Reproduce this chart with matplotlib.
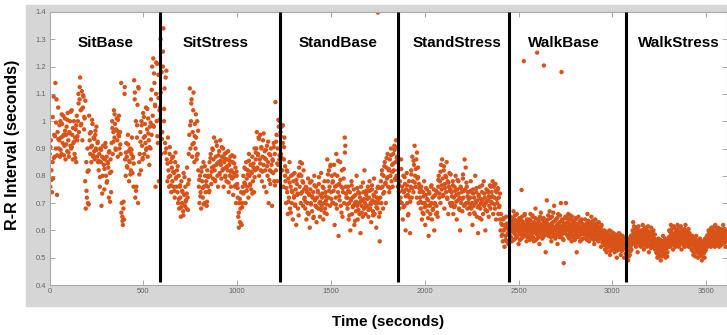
import matplotlib
matplotlib.use("Agg")
import matplotlib.pyplot as plt
import numpy as np
from matplotlib.patches import Rectangle

plt.rcParams['font.family'] = ['Liberation Sans', 'DejaVu Sans']

# phase names and boundaries (seconds)
phases = ["SitBase", "SitStress", "StandBase", "StandStress", "WalkBase", "WalkStress"]
bounds = [0, 588, 1227, 1858, 2451, 3074, 3611]
label_x = [300, 886, 1539, 2174, 2743, 3353]

# R-R intervals (ms), evenly spread over each phase
sit_base = [
    880, 760, 930, 820, 740, 850, 790,
    1090, 950, 870, 1140, 900, 1080, 730,
    960, 1050, 900, 930, 870, 1000, 940, 880, 990, 920, 1020, 950,
    910, 1010, 860, 950, 980, 890, 1030, 930, 870, 960, 1000, 910,
    900, 1040, 950, 860, 920, 1000, 880, 940, 970, 850, 1020, 930,
    1000, 1100, 960, 1080, 1160, 1040, 990, 1110, 930, 1050, 1090, 970, 1010,
    780, 680, 850, 720, 900, 700, 820,
    1020, 930, 880, 960, 850, 910, 990, 870, 940, 890, 860, 950, 900, 980, 870, 920, 850,
    820, 880, 760, 900, 850, 690, 870, 800, 910, 840, 750, 860, 920, 800, 870, 780, 850, 830, 720, 890, 810, 860, 740,
    920, 1000, 880, 960, 1040, 940, 990, 900, 970, 1010, 930, 870, 950, 1020, 900, 960, 880,
    1140, 700, 650, 620, 680, 640, 1100,
    860, 800, 920, 870, 830, 950, 890, 780, 850, 900, 820, 880, 940, 810, 870, 760,
    1150, 1080, 720, 1000, 760, 940, 1060, 700, 1120, 850,
    880, 960, 820, 1000, 910, 860, 1030, 940, 880, 990, 920, 1050, 900, 970, 870, 1010, 930, 840, 980, 900,
    1080, 950, 1200, 1020, 1230, 980, 1140, 1060, 760, 1100, 1000, 1210, 920, 1170, 780, 1040,
]
sit_base_b = [
    905, 785, 1015, 865, 945, 995, 875,
    935, 985, 895, 1025, 945, 875, 965, 915, 1005, 885, 955, 1035, 905, 975, 925, 865, 985, 945,
    1065, 1125, 985, 1045, 1095, 1015, 1075,
    745, 815, 695,
    955, 905, 1005, 875, 935, 965, 895, 925,
    855, 795, 895, 735, 865, 825, 905, 775, 845, 885, 705, 815,
    975, 925, 1025, 895, 965, 1005, 945, 915,
    665, 635, 705, 1125,
    885, 835, 915, 855, 805, 895, 865, 845,
    1105, 745, 985, 1125, 805,
    925, 985, 865, 1015, 945, 895, 1045, 955, 905, 995,
    1115, 985, 1175, 1055, 1215, 945, 1085, 1005,
]
sit_stress = [
    1050, 1300, 880, 1180, 960, 1200, 1340, 1000, 1120, 920, 1160,
    900, 860, 780, 940, 820, 760, 880, 800, 850, 740, 830, 780, 870, 760, 810, 720, 850, 790, 760, 820,
    740, 700, 800, 680, 760, 720, 650, 780, 700, 740, 670, 810, 730, 690, 760, 710, 680, 830, 720, 770,
    880, 950, 1120, 900, 1000, 1080, 870, 960, 1040, 920, 850, 990, 900, 940, 860, 1000, 880,
    820, 760, 700, 800, 740, 680, 830, 780, 720, 850, 760, 700, 800, 740, 780, 690, 820, 760, 800, 740,
    850, 800, 880, 770, 830, 900, 790, 860, 940, 820,
    780, 870, 840, 910, 800, 760, 850, 890, 810, 930,
    840, 790, 870, 820, 900, 760, 850, 880, 800, 830,
    780, 860, 820, 890, 740, 840, 800, 870, 760, 820,
    790, 850, 730, 810, 870, 760, 830, 700, 800, 770,
    720, 650, 610, 700, 630, 680, 740, 620, 700, 760,
    800, 740, 830, 770, 700, 850, 790, 760, 820, 720, 880, 800, 770, 840, 750, 810, 870, 780, 830, 740, 900, 820, 860,
    900, 960, 830, 880, 940, 800, 860, 950, 820, 900, 780, 870, 930, 840, 760, 890, 820, 860, 740, 910, 800, 850,
    700, 880, 820, 770, 900, 840, 690, 860, 810, 920, 780,
    880, 1070, 820, 950, 780, 900, 840, 980, 860,
]
sit_stress_b = [
    1105, 935, 1255, 1045, 885, 1185,
    845, 795, 905, 765, 865, 815, 745, 885, 795, 835,
    715, 765, 685, 745, 655, 795, 705, 735, 675, 785,
    985, 1065, 915, 1105, 945, 1025, 875, 965,
    785, 725, 815, 755, 695, 835, 765, 705, 795, 745,
    865, 815, 895, 835, 785, 925, 845, 875, 805, 855, 905, 825, 865, 795, 885, 835, 775, 855, 815, 875,
    795, 845, 765, 815, 755,
    665, 715, 625, 685, 735,
    775, 825, 745, 805, 855, 765, 815, 735, 845, 795, 885, 825,
    875, 935, 845, 905, 815, 955, 865, 895, 835, 925, 785, 875, 815, 855, 905, 765,
    925, 845, 1005, 875,
]
stand_base = [
    1000, 960, 880, 980, 820, 920, 760, 860, 940, 800,
    780, 700, 820, 740, 660, 790, 720, 850, 680, 760, 800, 700, 740, 640, 780, 720, 810, 690, 750, 620, 770, 730, 680, 800,
    830, 760, 850, 700, 800, 740, 780, 690, 820, 750,
    720, 680, 760, 640, 740, 700, 790, 660, 730, 610, 750, 700, 780, 670, 720, 740, 650, 800, 710, 690,
    760, 630, 720, 740, 680, 770, 700, 650, 730, 810, 690, 720, 760, 640, 700, 780, 680, 740, 710, 660,
    860, 780, 720, 820, 760, 690, 840, 740, 800, 700,
    780, 700, 840, 620, 760, 720, 880, 680, 800, 740, 580, 770, 710, 850, 690, 760, 820, 650, 740, 790, 700, 940, 910, 760, 720,
    720, 680, 760, 640, 700, 740, 600, 710, 780, 660, 720, 690, 750, 620, 700, 730, 670, 800, 690, 640,
    740, 700, 660, 720, 590, 760, 690, 710, 650, 740, 680, 820, 700, 660, 730,
    740, 690, 760, 650, 720, 780, 680, 700, 630, 750, 710, 670, 730, 790, 660, 700, 740, 610, 720, 680, 760, 700, 650, 560,
    720, 780, 700, 820, 760, 680, 800, 740, 850, 770, 700, 830, 790, 880, 760, 820,
    740, 860, 800, 900, 780, 840, 760, 880, 820, 910, 790, 850, 930, 800, 870, 760,
]
stand_base_b = [
    945, 865, 985, 905, 835,
    755, 815, 705, 775, 665, 745, 805, 725, 695, 785, 735, 655,
    805, 735, 845, 775, 715,
    705, 755, 665, 735, 775, 695, 725, 645, 765, 715, 685, 745, 795, 705, 675, 735, 755, 665, 725, 695,
    805, 745, 835, 715, 775,
    745, 805, 695, 765, 855, 725, 785, 665, 755, 825, 885, 735,
    695, 745, 655, 715, 765, 685, 725, 635, 705, 755, 675, 735, 705, 665, 775, 715, 685, 745,
    715, 675, 745, 695, 765, 655, 725, 705, 685, 755, 715, 665,
    755, 805, 735, 835, 775, 865, 795, 825, 755, 875, 815, 845, 895, 785, 865, 905,
]
stand_stress = [
    820, 740, 680, 780, 720, 860, 700, 760, 640, 800, 740, 690, 770, 600, 750, 810, 700, 730, 660, 780, 720, 590,
    760, 820, 720, 870, 780, 740, 840, 910, 800, 760, 860, 720, 790, 830, 700, 770, 740,
    720, 680, 760, 640, 700, 740, 660, 780, 700, 620, 730, 690, 750, 670, 710, 580, 740, 690, 660, 760,
    700, 640, 720, 680, 750, 600, 700, 730, 660, 690, 740, 650,
    760, 800, 720, 780, 700, 840, 750, 860, 790, 730, 820, 680, 770, 800, 740, 850, 720, 780, 660, 760, 810, 700, 750, 690,
    740, 700, 780, 660, 720, 760, 690, 800, 730, 640, 750, 710, 780, 680, 720, 600, 760, 700, 740, 670,
    790, 720, 690, 860, 750, 830, 700, 760, 680, 740,
    700, 740, 660, 720, 780, 680, 700, 620, 750, 690, 720, 660, 800, 700, 740, 650, 710, 590, 730, 690,
    760, 680, 700, 640, 740, 710, 660, 780, 690, 720, 600, 700, 750, 670, 710, 740, 650, 690, 720, 680, 760,
    740, 700, 780, 660, 760, 720, 680, 770, 640, 740, 700, 750, 660, 720, 690,
    640, 600, 660, 580, 620, 560, 640, 600, 540, 620, 580, 650, 560, 610, 590, 550, 600,
]
stand_stress_b = [
    765, 705, 825, 745, 685, 795, 725, 765, 655, 745, 705,
    805, 755, 855, 775, 825, 885, 795, 755,
    705, 745, 665, 725, 685, 755, 715, 645, 735, 695, 765, 675, 725, 695, 745, 665,
    785, 735, 815, 765, 725, 835, 755, 795, 715, 775, 745, 805,
    725, 765, 685, 745, 705, 785, 735, 675, 755, 715, 805, 745, 695, 775, 725,
    715, 685, 745, 695, 735, 665, 705, 755, 685, 725, 645, 715, 765, 695, 735, 675, 705, 745, 725, 765, 705,
    725, 765, 695, 745, 715, 755, 685, 735, 625, 585, 645, 605, 565, 625, 585, 605,
]
walk_base = [
    620, 580, 650, 600, 560, 630, 610, 670, 590, 640, 570, 620, 600, 660, 580, 630, 550, 610, 640, 590,
    620, 570, 650, 600, 630, 580, 610, 660, 590, 620, 560, 640, 600,
    610, 580, 640, 600, 660, 570, 620, 590, 650, 610, 560, 630, 600, 680, 590, 620, 570, 640, 600, 610,
    550, 650, 590, 620, 600, 570, 640, 610, 580, 630, 600, 520, 620,
    710, 600, 640, 580, 620, 670, 590, 610, 560, 650, 600, 630, 580, 690, 610, 570, 640, 600, 620, 550,
    660, 590, 610, 630, 580, 700, 600, 640, 570, 620, 480, 610, 590, 650,
    700, 600, 630, 580, 660, 610, 570, 640, 590, 620, 560, 650, 600, 580, 630, 610, 570, 640, 600, 520,
    620, 590, 650, 580, 610, 560, 630, 600, 640, 570, 610, 590, 620,
    600, 640, 570, 610, 590, 660, 580, 620, 560, 630, 600, 590, 650, 570, 610, 580, 620, 550, 600, 640,
    590, 570, 620, 600, 560, 630, 590, 610, 580, 540, 620, 600, 570,
    580, 550, 600, 530, 570, 560, 520, 590, 550, 570, 540, 600, 510, 560, 580, 540, 570, 530, 590, 550,
    520, 560, 580, 540, 500, 570, 550, 530, 590, 560, 540, 510, 570, 550, 580, 530, 560, 500, 540, 570, 550,
]
walk_base_b = [
    605, 635, 575, 615, 645, 595, 625, 565, 605, 655, 585, 615, 635, 575, 605, 625, 595, 645, 565, 615,
    585, 635, 605, 575, 625, 595, 655, 615, 585, 605, 635, 575, 615,
    595, 625, 565, 605, 635, 585, 615, 655, 575, 605, 625, 595, 645, 565, 615, 585, 625, 605, 575, 635,
    595, 615, 665, 585, 605, 625, 575, 645, 595, 615, 585, 635, 605,
    625, 595, 655, 585, 615, 605, 645, 575, 625, 595, 615, 665, 585, 605, 635, 575, 615, 595, 645, 585,
    625, 605, 575, 655, 595, 615, 585, 635, 605, 565, 625, 595, 645, 605,
    615, 585, 645, 605, 575, 625, 595, 655, 585, 615, 605, 635, 575, 625, 595, 565, 615, 645, 585, 605,
    625, 575, 615, 595, 635, 585, 605, 565, 625, 595, 615, 585, 605,
    585, 615, 595, 625, 565, 605, 635, 585, 595, 615, 575, 625, 605, 585, 635, 595, 565, 615, 585, 605,
    625, 575, 595, 615, 585, 565, 605, 595, 575, 615, 585, 555, 595,
    565, 585, 545, 575, 555, 595, 535, 565, 585, 545, 575, 555, 525, 565, 595, 545, 555, 575, 535, 565,
    545, 585, 555, 525, 565, 545, 575, 535, 555, 585, 545, 565, 525, 555, 575, 545, 535, 565, 555, 515, 545,
]
walk_stress = [
    530, 500, 560, 490, 540, 570, 510, 550, 580, 530, 560, 600,
    630, 570, 600, 550, 590, 540, 610, 570, 520, 580, 600, 560, 590,
    570, 540, 600, 560, 620, 580, 530, 590, 550, 610, 570, 540, 600, 560, 580, 520, 590, 570, 550, 610,
    560, 540, 580, 600, 550, 570, 530,
    550, 520, 560, 500, 540, 570, 510, 550, 530, 490, 560, 520, 540, 580, 510, 550, 530, 570, 500, 540,
    560, 520, 550,
    560, 600, 540, 580, 620, 550, 590, 570, 530, 610, 560, 580, 540, 600, 570, 550, 620, 580, 540, 590,
    560, 610, 570, 530, 580, 600, 550, 570, 590, 540, 620, 560, 580, 550, 600, 570, 540, 590, 560, 580,
    560, 530, 580, 550, 510, 570, 540, 560, 520, 580, 550, 530, 500, 560, 540, 520, 570, 510, 550, 490,
    540, 560, 520, 550, 500, 570, 530, 550, 580, 540,
    570, 600, 550, 590, 560, 540, 610, 570, 590, 550, 580, 600, 540, 620, 570, 560, 590, 550, 610, 580,
    540, 570, 600, 560, 590, 550, 580, 620, 560, 570, 600, 540, 580, 560,
]
walk_stress_b = [
    515, 545, 525, 555, 505, 535, 565, 525, 545, 575, 555, 585,
    595, 615, 585, 565, 605, 575, 595, 555, 585, 615, 575, 545, 565,
    555, 585, 575, 545, 595, 565, 605, 545, 575, 595, 555, 585, 565, 615, 545, 575, 595, 565, 535, 585,
    555, 595, 575, 545, 565, 585, 545,
    535, 565, 515, 545, 525, 555, 505, 535, 565, 525, 545, 505, 555, 535, 525, 565, 545, 515, 555, 535,
    505, 545, 565,
    575, 555, 595, 565, 545, 605, 575, 555, 585, 615, 565, 545, 595, 575, 555, 605, 585, 565, 545, 595,
    575, 615, 555, 585, 565, 595, 545, 575, 605, 555, 585, 565, 595, 545, 575, 605, 585, 555, 575, 565,
    545, 575, 525, 555, 565, 535, 555, 505, 545, 565, 525, 555, 535, 515, 545, 565, 525, 535, 505, 545,
    525, 555, 515, 535, 565, 525, 545, 555, 565, 575,
    585, 555, 595, 575, 545, 585, 605, 565, 555, 595, 575, 615, 555, 585, 565, 545, 605, 575, 555, 595,
    565, 585, 545, 605, 575, 555, 595, 565, 585, 605, 555, 575, 595, 565,
]
segments = [[sit_base, sit_base_b], [sit_stress, sit_stress_b],
            [stand_base, stand_base_b], [stand_stress, stand_stress_b],
            [walk_base, walk_base_b], [walk_stress, walk_stress_b]]

# isolated points away from the main cloud
outlier_t = [1750, 2516, 2528, 2599, 2635, 2729]
outlier_rr = [1398, 748, 1220, 1251, 1204, 1180]

t_all, rr_all = [], []
for i, runs in enumerate(segments):
    for k, seg in enumerate(runs):
        step = (bounds[i + 1] - bounds[i]) / len(seg)
        t = np.linspace(bounds[i], bounds[i + 1], len(seg), endpoint=False) + step * (0.25 + 0.5 * k)
        t_all.append(t)
        rr_all.append(np.array(seg) / 1000)
t_all = np.concatenate(t_all + [np.array(outlier_t)])
rr_all = np.concatenate(rr_all + [np.array(outlier_rr) / 1000])

fig = plt.figure(figsize=(7.27, 3.35), dpi=100)
# grey panel behind the axes
fig.add_artist(Rectangle((26 / 727, 1 - 306 / 335), 1 - 26 / 727, 301 / 335,
                         transform=fig.transFigure, color='#d6d6d6', zorder=-10))
ax = fig.add_axes([49.6 / 727, 1 - 285 / 335, 1 - 49.6 / 727, 273 / 335])
ax.set_facecolor('white')

ax.scatter(t_all, rr_all, s=10, color='#d95319', edgecolors='none', zorder=2)
ax.vlines(bounds[1:-1], 0.412, 1.4, color='black', lw=2.2, zorder=3)

for name, x in zip(phases, label_x):
    ax.text(x, 1.285, name, ha='center', va='center', fontsize=11, fontweight='bold')

ax.set_xlim(0, 3611)
ax.set_ylim(0.4, 1.4)
ax.set_xticks(np.arange(0, 3501, 500))
yt = np.round(np.arange(0.4, 1.41, 0.1), 1)
ax.set_yticks(yt)
ax.set_yticklabels(['%g' % v for v in yt])
ax.tick_params(direction='in', length=3.5, width=0.6, color='#999999', labelsize=5.5,
               labelcolor='#666666', top=True, right=True, pad=2.5)
for sp in ax.spines.values():
    sp.set_color('#aaaaaa')
    sp.set_linewidth(0.8)

fig.text(13 / 727, 1 - 145 / 335, 'R-R Interval (seconds)', rotation=90, ha='center',
         va='center', fontsize=11.5, fontweight='bold')
fig.text(388 / 727, 1 - 322 / 335, 'Time (seconds)', ha='center', va='center',
         fontsize=11, fontweight='bold')

fig.savefig('out.png', dpi=100)
plt.close(fig)
